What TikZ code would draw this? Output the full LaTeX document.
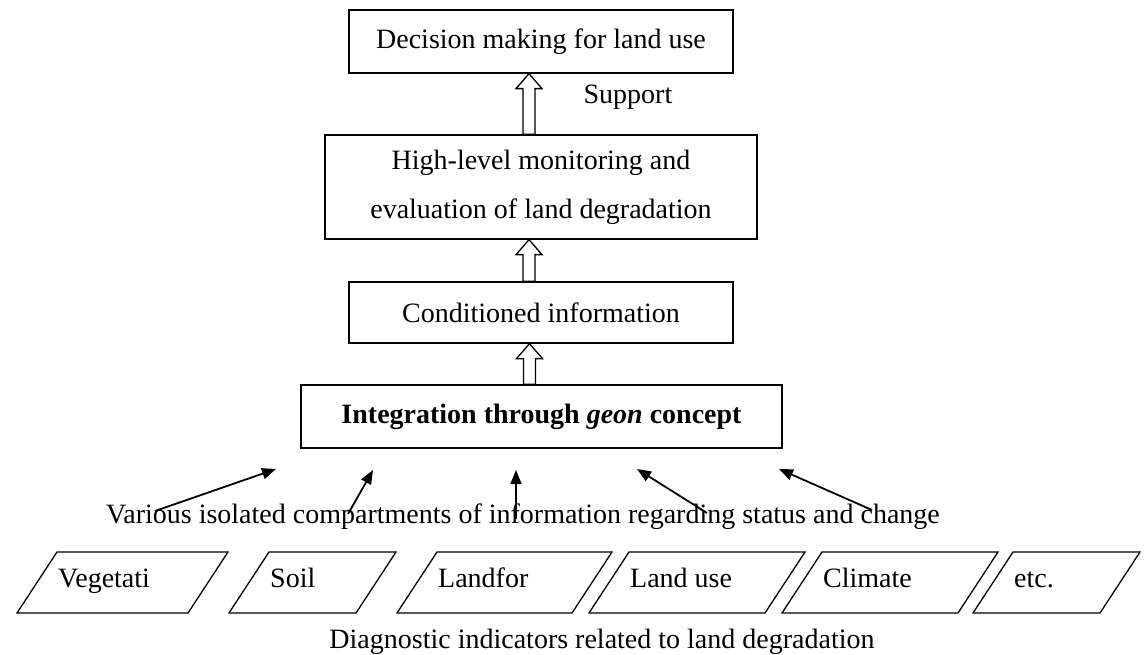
\documentclass[tikz,border=0pt]{standalone}
\usepackage{fontspec}
\setmainfont{Liberation Serif}
\usetikzlibrary{arrows.meta,calc}
\tikzset{
  box/.style={draw, line width=1.3pt, rectangle, inner sep=0pt, align=center, font=\fontsize{28}{49}\selectfont},
  lbl/.style={inner sep=0pt, font=\fontsize{28}{34}\selectfont},
  hollow/.style={draw, fill=white, line width=1.3pt, line join=miter},
  para/.style={draw, line width=1.3pt, line join=miter},
  inarrow/.style={line width=1.8pt, -{Triangle[length=14pt,width=11pt]}}
}
\newcommand\hollowup[2]{%
  \path[hollow] let \p1=($(#1.north)+(-12,0)$), \p2=($(#2.south)+(-12,0)$) in
    (\x1-6pt,\y1) -- (\x1-6pt,\y2-15pt) -- (\x1-13pt,\y2-15pt) -- (\x1,\y2)
    -- (\x1+13pt,\y2-15pt) -- (\x1+6pt,\y2-15pt) -- (\x1+6pt,\y1) -- cycle;}
\newcommand\paral[4]{%
  \draw[para] (#2,613) -- (#2+40,552) -- (#3,552) -- (#3-40,613) -- cycle;
  \node[lbl, anchor=base west] (#1) at (#2+41,587) {#4};}
\begin{document}
\begin{tikzpicture}[x=1pt,y=-1pt]
\useasboundingbox (0,0) rectangle (1144,655);
\node[box, minimum width=384pt, minimum height=63pt] (dec) at (541,41.5) {Decision making for land use};
\node[box, minimum width=432pt, minimum height=104pt] (high) at (541,187) {High-level monitoring and\\evaluation of land degradation};
\node[box, minimum width=384pt, minimum height=61pt] (cond) at (541,312.5) {Conditioned information};
\node[box, minimum width=481pt, minimum height=63pt] (integ) at (541.5,416.5) {\textbf{Integration through \textit{geon} concept}};
\hollowup{high}{dec}
\hollowup{cond}{high}
\hollowup{integ}{cond}
\node[lbl] (sup) at (628,97) {Support};
\node[lbl, anchor=base] (various) at (523,523) {Various isolated compartments of information regarding status and change};
\coordinate (t1) at (155,511); \coordinate (h1) at (276,469);
\coordinate (t2) at (348,514); \coordinate (h2) at (373,470);
\coordinate (t3) at (516,519); \coordinate (h3) at (516,470);
\coordinate (t4) at (707,513); \coordinate (h4) at (637,469);
\coordinate (t5) at (872,510); \coordinate (h5) at (779,469);
\foreach \i in {1,...,5} { \draw[inarrow] (t\i) -- (h\i); }
\paral{veg}{17}{228}{Vegetati}
\paral{soil}{229}{396}{Soil}
\paral{landfor}{397}{612}{Landfor}
\paral{landuse}{589}{805}{Land use}
\paral{climate}{782}{998}{Climate}
\paral{etc}{973}{1140}{etc.}
\node[lbl, anchor=base] (diag) at (602,648) {Diagnostic indicators related to land degradation};
\end{tikzpicture}
\end{document}
